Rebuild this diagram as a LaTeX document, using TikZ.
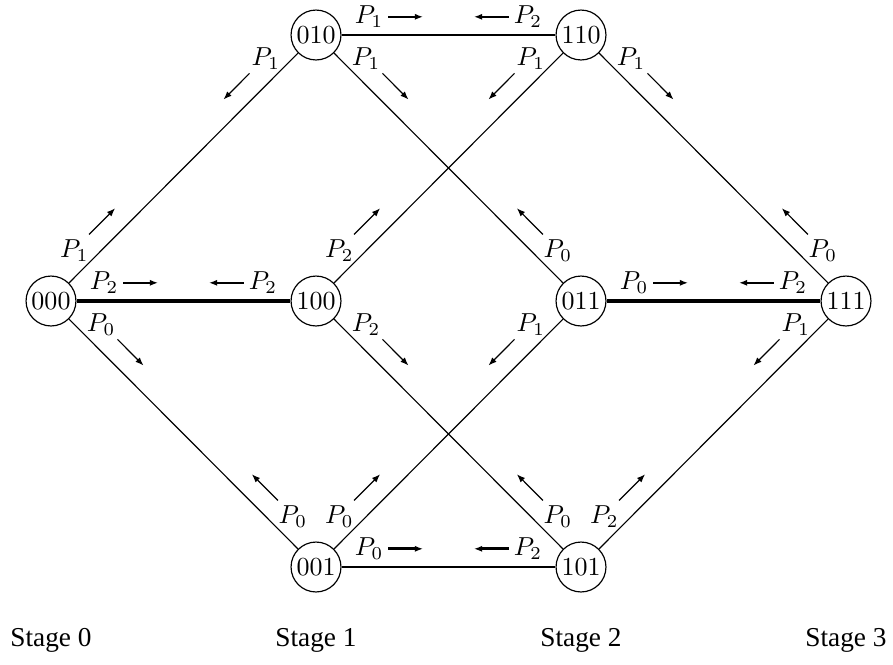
\documentclass[tikz,border=0pt]{standalone}
\usepackage{fontspec}
\newfontfamily\stagefont{Liberation Serif}
\usetikzlibrary{calc,arrows.meta}
\tikzset{
  state/.style={circle,draw,line width=0.45pt,inner sep=0.5pt,minimum size=19.2pt},
  thickedge/.style={line width=1.4pt},
  medge/.style={line width=0.8pt},
  thinedge/.style={line width=0.45pt},
  lab/.style={inner sep=0pt},
  arr/.style={-{Latex[length=3.2pt,width=2.4pt]},line width=0.45pt},
  harr/.style={arr,line width=0.65pt},
  barr/.style={arr,line width=1.1pt},
  stagestyle/.style={inner sep=0pt,font=\stagefont\fontsize{10.5}{12}\selectfont}
}
% horizontal edge label: near, far, text, angle, arrow style
\newcommand\hlab[5]{%
  \node[lab] (L#1#2) at ($(#1)!20.4pt!(#2)!7.0pt!#4:(#2)$) {$#3$};
  \coordinate (a#1#2) at ($(#1)!27.7pt!(#2)!7.0pt!#4:(#2)$);
  \coordinate (b#1#2) at ($(#1)!41.2pt!(#2)!7.0pt!#4:(#2)$);
  \draw[#5] (a#1#2) -- (b#1#2);
}
% diagonal edge label: near, far, text, angle
\newcommand\dlab[4]{%
  \node[lab] (L#1#2) at ($(#1)!20.0pt!(#2)!7.3pt!#4:(#2)$) {$#3$};
  \coordinate (a#1#2) at ($(#1)!28.5pt!(#2)!7.7pt!#4:(#2)$);
  \coordinate (b#1#2) at ($(#1)!42.7pt!(#2)!7.7pt!#4:(#2)$);
  \draw[arr] (a#1#2) -- (b#1#2);
}
\begin{document}
\begin{tikzpicture}[x=0.3846pt,y=-0.3846pt]
\useasboundingbox (0,0) rectangle (893,664);
% nodes
\node[state] (n000) at (51,301) {000};
\node[state] (n100) at (316,301) {100};
\node[state] (n011) at (581,301) {011};
\node[state] (n111) at (846,301) {111};
\node[state] (n010) at (316,35) {010};
\node[state] (n110) at (581,35) {110};
\node[state] (n001) at (316,567) {001};
\node[state] (n101) at (581,567) {101};
% stage labels
\node[stagestyle] (s0) at (51,640) {Stage 0};
\node[stagestyle] (s1) at (316,640) {Stage 1};
\node[stagestyle] (s2) at (581,640) {Stage 2};
\node[stagestyle] (s3) at (846,640) {Stage 3};
% edges
\draw[thickedge] (n000) -- (n100);
\draw[thickedge] (n011) -- (n111);
\draw[medge] (n010) -- (n110);
\draw[medge] (n001) -- (n101);
\draw[thinedge] (n000) -- (n010);
\draw[thinedge] (n000) -- (n001);
\draw[thinedge] (n010) -- (n011);
\draw[thinedge] (n110) -- (n100);
\draw[thinedge] (n110) -- (n111);
\draw[thinedge] (n100) -- (n101);
\draw[thinedge] (n011) -- (n001);
\draw[thinedge] (n111) -- (n101);
% horizontal labels
\hlab{n000}{n100}{P_2}{90}{harr}
\hlab{n100}{n000}{P_2}{-90}{harr}
\hlab{n010}{n110}{P_1}{90}{harr}
\hlab{n110}{n010}{P_2}{-90}{harr}
\hlab{n011}{n111}{P_0}{90}{harr}
\hlab{n111}{n011}{P_2}{-90}{harr}
\hlab{n001}{n101}{P_0}{90}{barr}
\hlab{n101}{n001}{P_2}{-90}{barr}
% diagonal labels
\dlab{n000}{n010}{P_1}{90}
\dlab{n010}{n000}{P_1}{-90}
\dlab{n000}{n001}{P_0}{90}
\dlab{n001}{n000}{P_0}{-90}
\dlab{n010}{n011}{P_1}{90}
\dlab{n011}{n010}{P_0}{-90}
\dlab{n110}{n100}{P_1}{-90}
\dlab{n100}{n110}{P_2}{90}
\dlab{n110}{n111}{P_1}{90}
\dlab{n111}{n110}{P_0}{-90}
\dlab{n100}{n101}{P_2}{90}
\dlab{n101}{n100}{P_0}{-90}
\dlab{n011}{n001}{P_1}{-90}
\dlab{n001}{n011}{P_0}{90}
\dlab{n111}{n101}{P_1}{-90}
\dlab{n101}{n111}{P_2}{90}
\end{tikzpicture}
\end{document}
